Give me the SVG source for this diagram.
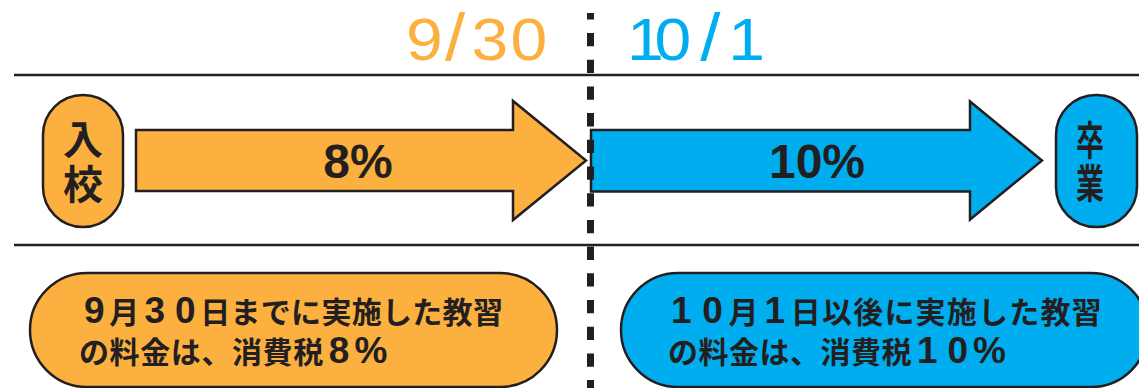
<svg xmlns="http://www.w3.org/2000/svg" width="1139" height="388" viewBox="0 0 1139 388">
<style>
.rule{stroke:#231f20;stroke-width:2.5;fill:none}
.dash{stroke:#231f20;stroke-width:7;stroke-dasharray:13.3 13.4;stroke-dashoffset:6.7;fill:none}
.org{fill:#fbb040;stroke:#231f20;stroke-width:2.5;stroke-linejoin:miter}
.blu{fill:#00aeef;stroke:#231f20;stroke-width:2.5;stroke-linejoin:miter}
.date{font-family:"Liberation Sans",Arial,sans-serif;font-size:60px}
.sl{font-size:66px}
.pct{font-family:"Liberation Sans",Arial,sans-serif;font-weight:bold;font-size:48px;fill:#231f20;text-anchor:middle}
.jp{font-family:"Noto Sans CJK JP","Noto Sans CJK SC",sans-serif;font-weight:bold;fill:#231f20}
.cap{font-size:40px;text-anchor:middle;writing-mode:vertical-rl}
.note{font-size:30px}
.dg{font-family:"Liberation Sans",Arial,sans-serif;font-size:37px}
</style>
<g id="rules">
<line class="rule" x1="14" y1="75" x2="1139" y2="75"/>
<line class="rule" x1="14" y1="245" x2="1139" y2="245"/>
</g>
<g id="date-0930"><text class="date" transform="translate(406,60) scale(1.1,1)" x="0 35.5 59.5 95" y="0" fill="#fbb040">9<tspan class="sl">/</tspan>30</text></g>
<g id="date-1001"><text class="date" transform="translate(627,60) scale(1.1,1)" x="0 25 66.5 92" y="0" fill="#00aeef">10<tspan class="sl">/</tspan>1</text></g>
<g id="enroll">
<rect class="org" x="43" y="95" width="80" height="132" rx="40" ry="40"/>
<text class="jp cap" x="83" y="164" letter-spacing="5">入校</text>
</g>
<g id="graduate">
<rect class="blu" x="1056" y="95" width="81" height="132" rx="40" ry="40"/>
<text class="jp cap" transform="translate(1090,0) scale(0.7,1)" x="0" y="163" letter-spacing="3">卒業</text>
</g>
<g id="connectors">
<polygon class="org" points="136,130 513,130 513,101 586,160.5 513,220 513,191 136,191"/>
<polygon class="blu" points="591,130 970,130 970,101.5 1042,160.5 970,219.5 970,191.5 591,191.5"/>
<line class="dash" x1="590.5" y1="13" x2="590.5" y2="388"/>
</g>
<g id="rate8"><text class="pct" x="358" y="178">8%</text></g>
<g id="rate10"><text class="pct" x="817" y="178">10%</text></g>
<g id="note-before">
<rect class="org" x="30" y="273" width="527" height="114" rx="57" ry="57"/>
<text class="jp note" y="323" x="84 109.3 144.6 174.9 200.2 230.5 260.8 291.1 321.4 351.7 382 412.3 442.6 472.9"><tspan class="dg">9</tspan>月<tspan class="dg">30</tspan>日までに実施した教習</text>
<text class="jp note" y="363" x="79 109.6 140.2 170.8 201.4 232 262.6 293.2 328.8 354.4">の料金は、消費税<tspan class="dg">8%</tspan></text>
</g>
<g id="note-after">
<rect class="blu" x="621" y="273" width="527" height="114" rx="57" ry="57"/>
<text class="jp note" y="323" x="671 702.2 728.4 764.6 790.8 822 853.2 884.4 915.6 946.8 978 1009.2 1040.4 1071.6"><tspan class="dg">10</tspan>月<tspan class="dg">1</tspan>日以後に実施した教習</text>
<text class="jp note" y="363" x="668 698.5 729 759.5 790 820.5 851 881.5 917 947.5 973">の料金は、消費税<tspan class="dg">10%</tspan></text>
</g>
</svg>
